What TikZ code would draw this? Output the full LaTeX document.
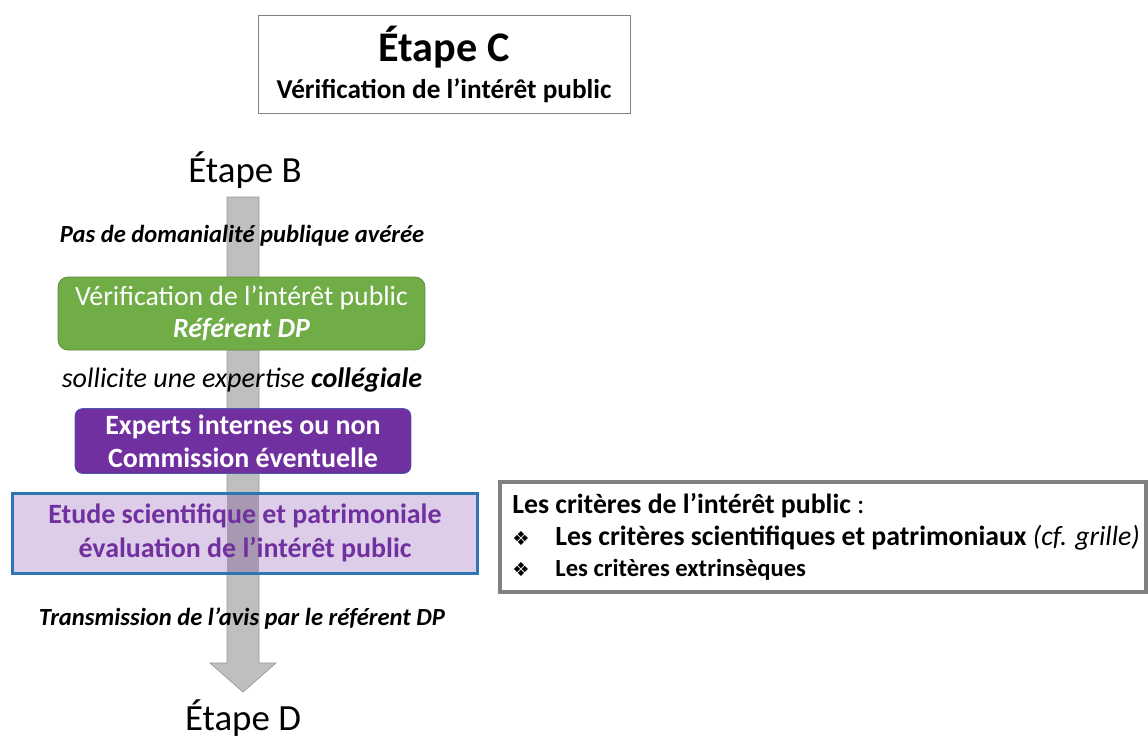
\documentclass[tikz,border=0pt]{standalone}
\usepackage{fontspec}
\setmainfont{Carlito}
\newfontfamily\symfont{DejaVu Sans}
\usetikzlibrary{positioning}
\pgfdeclarelayer{background}
\pgfdeclarelayer{middle}
\pgfsetlayers{background,middle,main}
\definecolor{stepgreen}{RGB}{112,173,71}
\definecolor{steppurple}{RGB}{112,48,160}
\definecolor{steplilac}{RGB}{221,205,232}
\definecolor{stepblue}{RGB}{46,117,182}
\definecolor{arrowgray}{RGB}{191,191,191}
\definecolor{arrowlilac}{RGB}{168,152,178}
\newcommand{\fsz}[1]{\fontsize{#1}{1.2\dimexpr#1\relax}\selectfont}
\newcommand{\critbullet}{\makebox[24.5pt][l]{\symfont\fontsize{11pt}{11pt}\selectfont ❖}}

\begin{document}
\begin{tikzpicture}[x=0.02cm, y=-0.02cm,
    steplabel/.style={inner sep=0pt, font=\fsz{21pt}},
    flowtext/.style={inner sep=0pt, align=center, font=\fsz{14pt}\bfseries\itshape},
    greenbox/.style={fill=stepgreen, draw=stepgreen!80!black, rounded corners=0.2cm,
        minimum width=7.34cm, minimum height=1.46cm, text=white, align=center,
        font=\fontsize{15.8pt}{18.5pt}\selectfont},
    purplebox/.style={fill=steppurple, draw=stepblue!60!steppurple, rounded corners=0.15cm,
        minimum width=6.72cm, minimum height=1.24cm, text=white, align=center,
        font=\fontsize{15.9pt}{19pt}\selectfont\bfseries},
    lilacbox/.style={draw=stepblue, line width=1.7pt, minimum width=9.32cm,
        minimum height=1.6cm, text=steppurple, align=center,
        font=\fontsize{15.9pt}{19.5pt}\selectfont\bfseries}]
    % big arrow from B to D
    \coordinate (shaftL) at (227,197);
    \coordinate (shaftR) at (259,663);
    \begin{pgfonlayer}{background}
        \fill [white] (0,0) rectangle (1148,738);
        \draw [arrowgray!80!black, fill=arrowgray] (shaftL) -- (259,197) -- (shaftR) -- (276,663)
            -- (243,692) -- (210,663) -- (227,663) -- cycle;
    \end{pgfonlayer}
    % title
    \node [draw=gray, fill=white, minimum width=7.44cm, minimum height=1.96cm, align=center,
        inner sep=0pt, font=\fontsize{15.5pt}{20pt}\selectfont] (title) at (444,64)
        {{\fsz{24pt}\bfseries Étape C}\\[1pt]{\bfseries Vérification de l’intérêt public}};
    % steps
    \node [steplabel] (etapeB) at (245,170) {Étape B};
    \node [flowtext] (pasdom) at (242,236) {Pas de domanialité publique avérée};
    \node [greenbox] (referent) at (241.5,313.5)
        {Vérification de l’intérêt public\\{\bfseries\itshape Référent DP}};
    \node [flowtext, font=\fsz{16pt}\itshape] (sollicite) at (242,380)
        {sollicite une expertise \textbf{collégiale}};
    \node [purplebox] (experts) at (243,441) {Experts internes ou non\\Commission éventuelle};
    \node [lilacbox] (etude) at (245,533)
        {Etude scientifique et patrimoniale\\évaluation de l’intérêt public};
    \begin{pgfonlayer}{middle}
        \fill [steplilac] (etude.north west) rectangle (etude.south east);
        \fill [arrowlilac] (shaftL |- etude.north) rectangle (shaftR |- etude.south);
    \end{pgfonlayer}
    \node [flowtext] (transmission) at (242,619) {Transmission de l’avis par le référent DP};
    \node [steplabel] (etapeD) at (243,718) {Étape D};
    % criteria
    \node [draw=gray, line width=2.2pt, fill=white, minimum width=12.92cm, minimum height=2.2cm,
        inner sep=0pt] (critbox) at (823,537) {};
    \node [anchor=west, align=left, inner sep=0pt, font=\fontsize{15.8pt}{18pt}\selectfont]
        (criteres) at (512,537)
        {\textbf{Les critères de l’intérêt public} :\\
         \critbullet\textbf{Les critères scientifiques et patrimoniaux} \textit{(cf. grille)}\\
         \critbullet{\fontsize{14pt}{16pt}\selectfont\bfseries Les critères extrinsèques}};
\end{tikzpicture}
\end{document}
